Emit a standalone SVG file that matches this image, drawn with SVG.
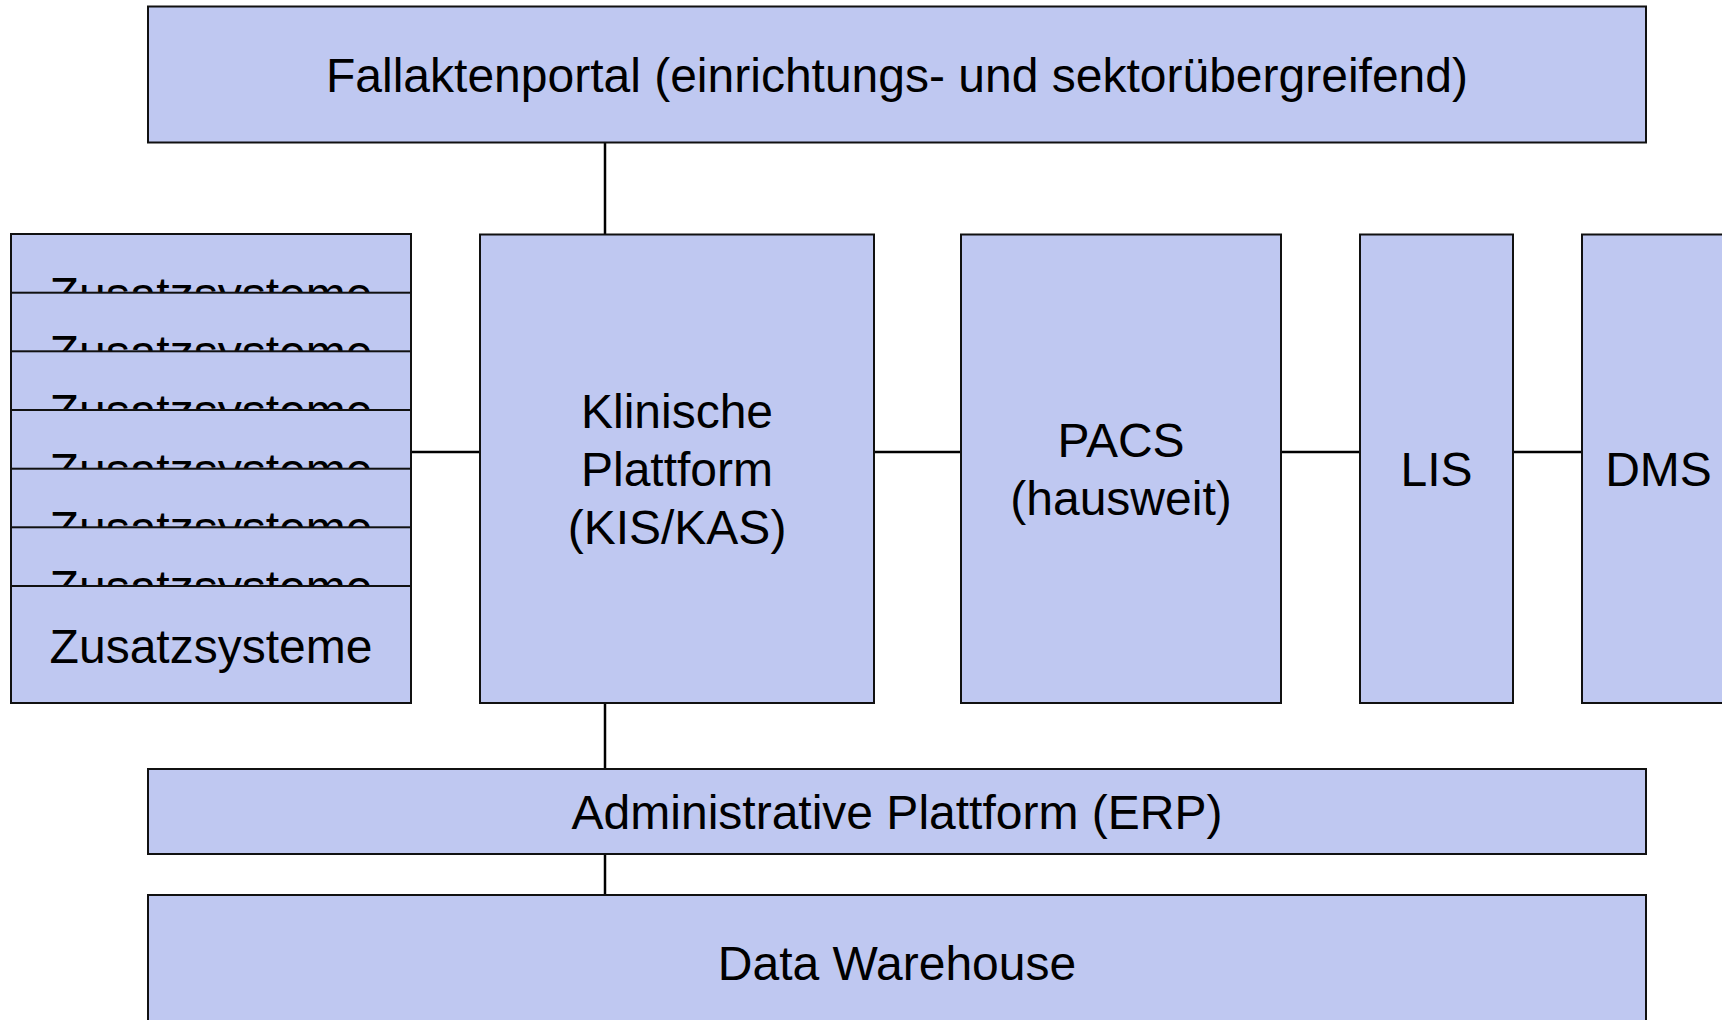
<svg xmlns="http://www.w3.org/2000/svg" width="1722" height="1020" viewBox="0 0 1722 1020">
<style>
.box{fill:#BFC8F1;stroke:#111;stroke-width:2}
.lbl{font-family:"Liberation Sans",Arial,sans-serif;font-size:48px;fill:#000;text-anchor:middle}
.con{stroke:#000;stroke-width:2.5;fill:none}
</style>
<rect width="1722" height="1020" fill="#fff"/>
<g id="connectors">
<line class="con" x1="605" y1="142" x2="605" y2="234"/>
<line class="con" x1="605" y1="703" x2="605" y2="769"/>
<line class="con" x1="605" y1="854" x2="605" y2="895"/>
<line class="con" x1="411" y1="452" x2="480" y2="452"/>
<line class="con" x1="874" y1="452" x2="961" y2="452"/>
<line class="con" x1="1281" y1="452" x2="1360" y2="452"/>
<line class="con" x1="1513" y1="452" x2="1582" y2="452"/>
</g>
<g id="portal">
<rect class="box" x="148" y="6.5" width="1498" height="136"/>
<text class="lbl" x="897" y="92">Fallaktenportal (einrichtungs- und sektorübergreifend)</text>
</g>
<g id="zusatz1"><rect class="box" x="11" y="234" width="400" height="117"/><text class="lbl" x="211" y="310.5">Zusatzsysteme</text></g>
<g id="zusatz2"><rect class="box" x="11" y="292.7" width="400" height="117"/><text class="lbl" x="211" y="369.2">Zusatzsysteme</text></g>
<g id="zusatz3"><rect class="box" x="11" y="351.3" width="400" height="117"/><text class="lbl" x="211" y="427.8">Zusatzsysteme</text></g>
<g id="zusatz4"><rect class="box" x="11" y="410" width="400" height="117"/><text class="lbl" x="211" y="486.5">Zusatzsysteme</text></g>
<g id="zusatz5"><rect class="box" x="11" y="468.7" width="400" height="117"/><text class="lbl" x="211" y="545.2">Zusatzsysteme</text></g>
<g id="zusatz6"><rect class="box" x="11" y="527.3" width="400" height="117"/><text class="lbl" x="211" y="603.8">Zusatzsysteme</text></g>
<g id="zusatz7"><rect class="box" x="11" y="586" width="400" height="117"/><text class="lbl" x="211" y="662.5">Zusatzsysteme</text></g>
<g id="klinisch">
<rect class="box" x="480" y="234.5" width="394" height="468.5"/>
<text class="lbl" x="677" y="428">Klinische</text>
<text class="lbl" x="677" y="486">Plattform</text>
<text class="lbl" x="677" y="544">(KIS/KAS)</text>
</g>
<g id="pacs">
<rect class="box" x="961" y="234.5" width="320" height="468.5"/>
<text class="lbl" x="1121" y="457">PACS</text>
<text class="lbl" x="1121" y="515">(hausweit)</text>
</g>
<g id="lis">
<rect class="box" x="1360" y="234.5" width="153" height="468.5"/>
<text class="lbl" x="1436.5" y="486">LIS</text>
</g>
<g id="dms">
<rect class="box" x="1582" y="234.5" width="153" height="468.5"/>
<text class="lbl" x="1658.5" y="486">DMS</text>
</g>
<g id="admin">
<rect class="box" x="148" y="769" width="1498" height="85"/>
<text class="lbl" x="897" y="829">Administrative Plattform (ERP)</text>
</g>
<g id="dwh">
<rect class="box" x="148" y="895" width="1498" height="136"/>
<text class="lbl" x="897" y="980">Data Warehouse</text>
</g>
</svg>
